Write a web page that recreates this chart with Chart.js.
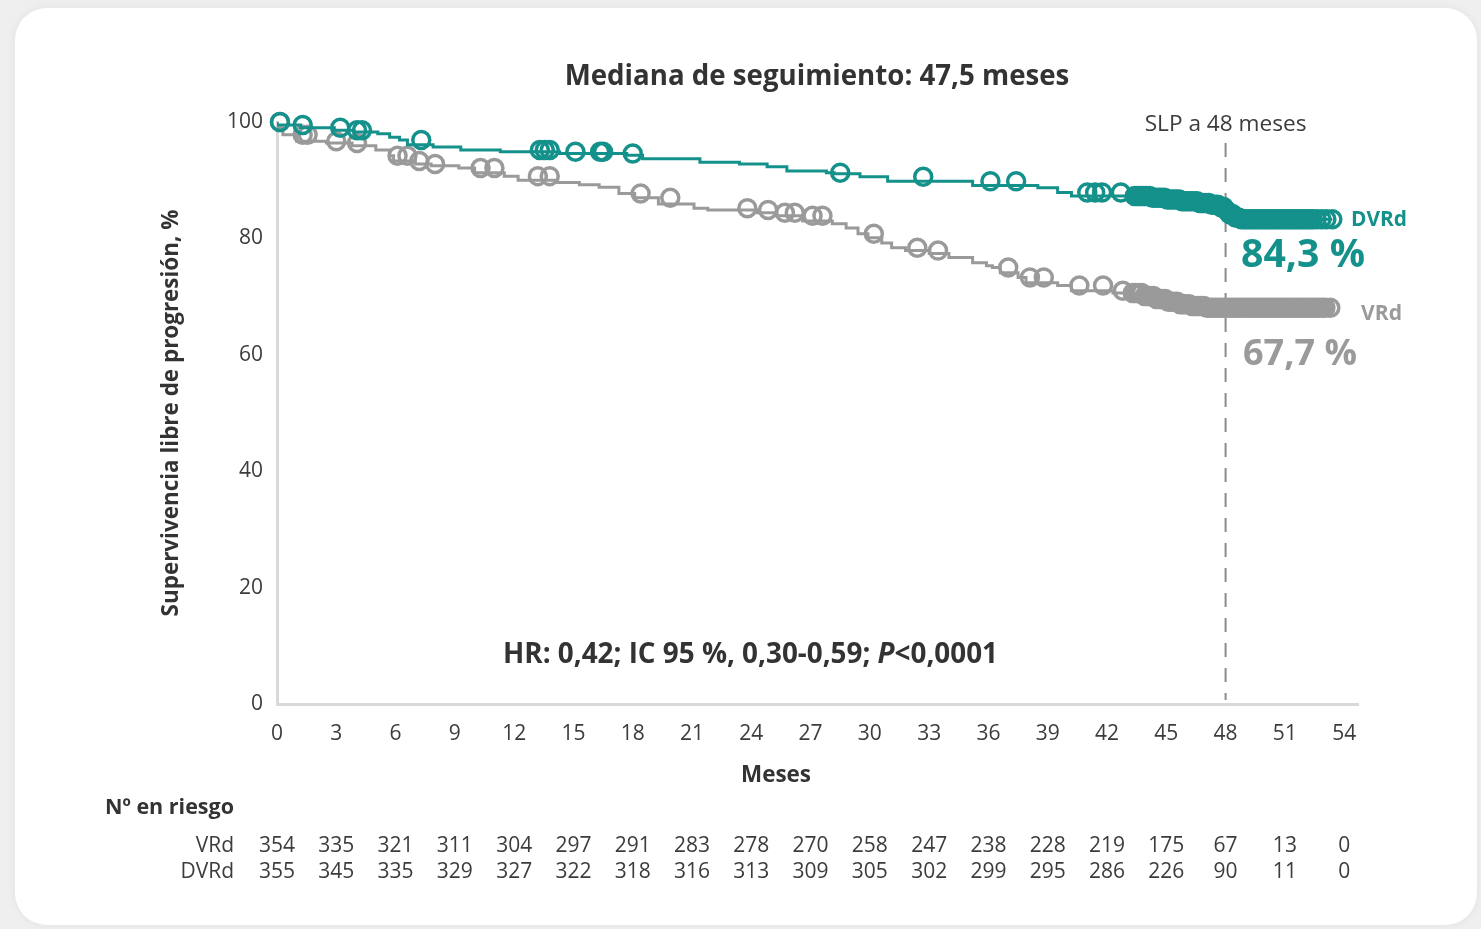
<!DOCTYPE html>
<html><head><meta charset="utf-8">
<script src="https://cdn.jsdelivr.net/npm/chart.js@4.4.1/dist/chart.umd.min.js"></script>
<style>
html,body{margin:0;padding:0;background:#efefef;width:1481px;height:929px;overflow:hidden;}
#card{position:absolute;left:15px;top:8px;width:1462px;height:917px;background:#fff;border-radius:32px;box-shadow:0 0 10px rgba(0,0,0,0.06);}
canvas{position:absolute;left:0;top:0;}
</style></head><body><div id="card"></div><canvas id="c" width="1481" height="929"></canvas>
<script>
const FONT = '"Open Sans", sans-serif';
const TEAL = '#14918b';
const GRAY = '#9a9a9a';

// Tick labels
const xTickValues = [0,3,6,9,12,15,18,21,24,27,30,33,36,39,42,45,48,51,54];
const yTickValues = [0,20,40,60,80,100];

// DVRd Kaplan-Meier steps (months, % progression-free)
const dvrdTimes = [0,1.2,2.9,3.9,5.1,5.7,6.2,6.6,7.9,9.3,11.3,14.3,17.7,18.5,21.4,23.4,24.8,25.8,27.8,28.2,29.5,30.9,35.2,38.5,39.5,40.2,43.4,44.2,45.0,45.8,46.6,47.2,47.7,47.95,48.2,48.45,48.7,53.4];
const dvrdSurv  = [100,99.5,99.0,98.6,98.3,98.0,97.4,96.9,96.1,95.7,95.2,94.9,94.6,94.3,93.7,93.1,92.8,92.3,91.6,91.3,91.1,90.6,89.8,89.1,88.7,87.9,87.3,87.0,86.7,86.4,86.1,85.8,85.4,84.8,84.2,83.6,83.3,83.3];
const dvrdCensor = [0.15,1.3,3.2,4.05,4.3,7.3,13.3,13.55,13.8,15.1,16.35,16.5,18.0,28.5,32.7,36.1,37.4,41.0,41.4,41.75,42.7,
  43.4,43.55,43.7,43.85,44.0,44.15,44.3,44.45,44.6,44.75,44.9,45.05,45.2,45.35,45.5,45.65,45.8,45.95,46.1,46.25,46.4,46.55,46.7,46.85,47.0,47.15,47.3,47.45,47.6,47.75,47.9,48.05,48.2,48.35,48.5,48.65,48.8,48.95,49.1,49.25,49.4,49.55,49.7,49.85,50.0,50.15,50.3,50.45,50.6,50.75,50.9,51.05,51.2,51.35,51.5,51.65,51.8,51.95,52.1,52.25,52.4,52.6,52.85,53.1,53.4];

// VRd Kaplan-Meier steps
const vrdTimes = [0,0.3,1.0,2.5,3.8,5.0,5.7,5.9,7.0,7.8,9.2,10.0,11.5,12.2,14.2,15.3,16.3,17.3,18.1,19.3,21.1,21.8,24.3,25.3,26.6,28.1,28.8,29.4,29.9,30.6,31.1,31.8,33.0,34.0,35.2,35.9,36.2,36.6,37.5,37.9,39.5,40.2,42.3,43.3,43.9,44.5,45.1,45.7,46.3,47.0,53.3];
const vrdSurv  = [100,99.0,97.8,96.7,96.4,95.9,95.2,94.2,93.3,92.8,92.5,92.1,91.3,90.7,90.0,89.6,89.2,88.8,87.7,87.0,85.9,85.2,84.9,84.4,83.9,83.0,82.5,81.8,80.8,80.1,79.2,78.4,77.9,77.4,76.7,75.8,75.3,75.0,74.1,73.3,72.4,71.9,71.0,70.6,70.1,69.6,69.1,68.7,68.4,68.1,68.1];
const vrdCensor = [0.15,1.3,1.55,3.0,4.05,6.1,6.6,7.2,8.0,10.3,11.0,13.2,13.8,18.4,19.9,23.8,24.85,25.7,26.2,27.1,27.6,30.2,32.4,33.45,37.0,38.1,38.8,40.6,41.8,42.8,
  43.3,43.45,43.6,43.75,43.9,44.05,44.2,44.35,44.5,44.65,44.8,44.95,45.1,45.25,45.4,45.55,45.7,45.85,46.0,46.15,46.3,46.45,46.6,46.75,46.9,47.05,47.2,47.35,47.5,47.65,47.8,47.95,48.1,48.25,48.4,48.55,48.7,48.85,49.0,49.15,49.3,49.45,49.6,49.75,49.9,50.05,50.2,50.35,50.5,50.65,50.8,50.95,51.1,51.25,51.4,51.55,51.7,51.85,52.0,52.15,52.3,52.45,52.6,52.75,52.9,53.05,53.3];

// Numbers at risk
const riskVRd  = [354,335,321,311,304,297,291,283,278,270,258,247,238,228,219,175,67,13,0];
const riskDVRd = [355,345,335,329,327,322,318,316,313,309,305,302,299,295,286,226,90,11,0];

function survAt(times, surv, t){ let v = surv[0]; for(let i=0;i<times.length;i++){ if(times[i]<=t) v=surv[i]; } return v; }
const toPts = (times, surv) => times.map((t,i)=>({x:t,y:surv[i]}));
const censorPts = (cens, times, surv) => cens.map(t=>({x:t,y:survAt(times,surv,t)}));

function fitText(ctx, text, x, y, w, weight, align, color){
  ctx.font = `${weight} 100px ${FONT}`;
  const m = ctx.measureText(text).width;
  const size = 100*w/m;
  ctx.font = `${weight} ${size}px ${FONT}`;
  ctx.textAlign = align; ctx.textBaseline = 'middle'; ctx.fillStyle = color;
  ctx.fillText(text, x, y);
}

const deco = {
  id:'deco',
  beforeDatasetsDraw(chart){
    const ctx = chart.ctx, xs = chart.scales.x, ys = chart.scales.y;
    const x48 = xs.getPixelForValue(48);
    ctx.save();
    ctx.strokeStyle = '#8c8c8c'; ctx.lineWidth = 2; ctx.setLineDash([14,11]);
    ctx.beginPath(); ctx.moveTo(x48, 143); ctx.lineTo(x48, ys.getPixelForValue(0)-4); ctx.stroke();
    ctx.restore();
  },
  afterDraw(chart){
    const ctx = chart.ctx, xs = chart.scales.x;
    ctx.save();
    fitText(ctx, 'Mediana de seguimiento: 47,5 meses', 817, 77, 505, 'bold', 'center', '#333');
    fitText(ctx, 'SLP a 48 meses', xs.getPixelForValue(48), 125, 162, 'normal', 'center', '#3c3c3c');
    fitText(ctx, 'DVRd', 1351, 220, 56, 'bold', 'left', TEAL);
    fitText(ctx, '84,3 %', 1241, 256, 124, 'bold', 'left', TEAL);
    fitText(ctx, 'VRd', 1361, 314, 41, 'bold', 'left', GRAY);
    fitText(ctx, '67,7 %', 1243, 355, 114, 'bold', 'left', GRAY);
    fitText(ctx, 'Meses', 776, 776, 70, 'bold', 'center', '#333');
    fitText(ctx, 'Nº en riesgo', 105, 808, 129, 'bold', 'left', '#333');
    // HR line with italic P
    const a = 'HR: 0,42; IC 95 %, 0,30-0,59; ', p = 'P', b = '<0,0001';
    ctx.font = `bold 100px ${FONT}`; const wa = ctx.measureText(a).width, wb = ctx.measureText(b).width;
    ctx.font = `italic bold 100px ${FONT}`; const wp = ctx.measureText(p).width;
    const s = 495/(wa+wp+wb)*100;
    ctx.textAlign='left'; ctx.textBaseline='middle'; ctx.fillStyle='#333';
    let x = 503;
    ctx.font = `bold ${s}px ${FONT}`; ctx.fillText(a, x, 655); x += wa*s/100;
    ctx.font = `italic bold ${s}px ${FONT}`; ctx.fillText(p, x, 655); x += wp*s/100;
    ctx.font = `bold ${s}px ${FONT}`; ctx.fillText(b, x, 655);
    // y title
    ctx.save(); ctx.translate(172, 413); ctx.rotate(-Math.PI/2);
    fitText(ctx, 'Supervivencia libre de progresión, %', 0, 0, 407, 'bold', 'center', '#333');
    ctx.restore();
    // risk table
    ctx.font = `normal 21px ${FONT}`; ctx.fillStyle = '#3c3c3c'; ctx.textBaseline='middle';
    ctx.textAlign='right';
    ctx.fillText('VRd', 234, 846); ctx.fillText('DVRd', 234, 872);
    ctx.textAlign='center';
    xTickValues.forEach((t,i)=>{
      const px = xs.getPixelForValue(t);
      ctx.fillText(String(riskVRd[i]), px, 846);
      ctx.fillText(String(riskDVRd[i]), px, 872);
    });
    ctx.restore();
  }
};

const lineCommon = {showLine:true, stepped:'after', pointRadius:0, pointHoverRadius:0, borderWidth:3, fill:false};
const censCommon = {showLine:false, pointStyle:'circle', pointRadius:8.5, pointHoverRadius:8.5, pointBorderWidth:3.5, pointBackgroundColor:'rgba(0,0,0,0)', clip:false};

new Chart(document.getElementById('c'), {
  type:'scatter',
  data:{datasets:[
    Object.assign({label:'DVRd cens', data:censorPts(dvrdCensor,dvrdTimes,dvrdSurv), pointBorderColor:TEAL, borderColor:TEAL}, censCommon),
    Object.assign({label:'DVRd', data:toPts(dvrdTimes,dvrdSurv), borderColor:TEAL}, lineCommon),
    Object.assign({label:'VRd cens', data:censorPts(vrdCensor,vrdTimes,vrdSurv), pointBorderColor:GRAY, borderColor:GRAY}, censCommon),
    Object.assign({label:'VRd', data:toPts(vrdTimes,vrdSurv), borderColor:GRAY}, lineCommon),
  ]},
  options:{
    responsive:false, animation:false, devicePixelRatio:1,
    elements:{point:{radius:8.5, borderWidth:3.5}},
    layout:{padding:{left:197, right:123, top:122, bottom:165}},
    plugins:{legend:{display:false}, tooltip:{enabled:false}, title:{display:false}},
    scales:{
      x:{type:'linear', min:0, max:54.7,
        afterBuildTicks:s=>{ s.ticks = xTickValues.map(v=>({value:v})); },
        afterFit:s=>{ s.height = 60; },
        grid:{display:false, drawTicks:false},
        border:{display:true, color:'#d9d9d9', width:3},
        ticks:{font:{family:FONT, size:21}, color:'#3c3c3c', padding:17, maxRotation:0, autoSkip:false}},
      y:{type:'linear', min:0, max:100,
        afterBuildTicks:s=>{ s.ticks = yTickValues.map(v=>({value:v})); },
        afterFit:s=>{ s.width = 80; },
        grid:{display:false, drawTicks:false},
        border:{display:true, color:'#d9d9d9', width:3},
        ticks:{font:{family:FONT, size:21}, color:'#3c3c3c', padding:14}}
    }
  },
  plugins:[deco]
});
</script></body></html>
